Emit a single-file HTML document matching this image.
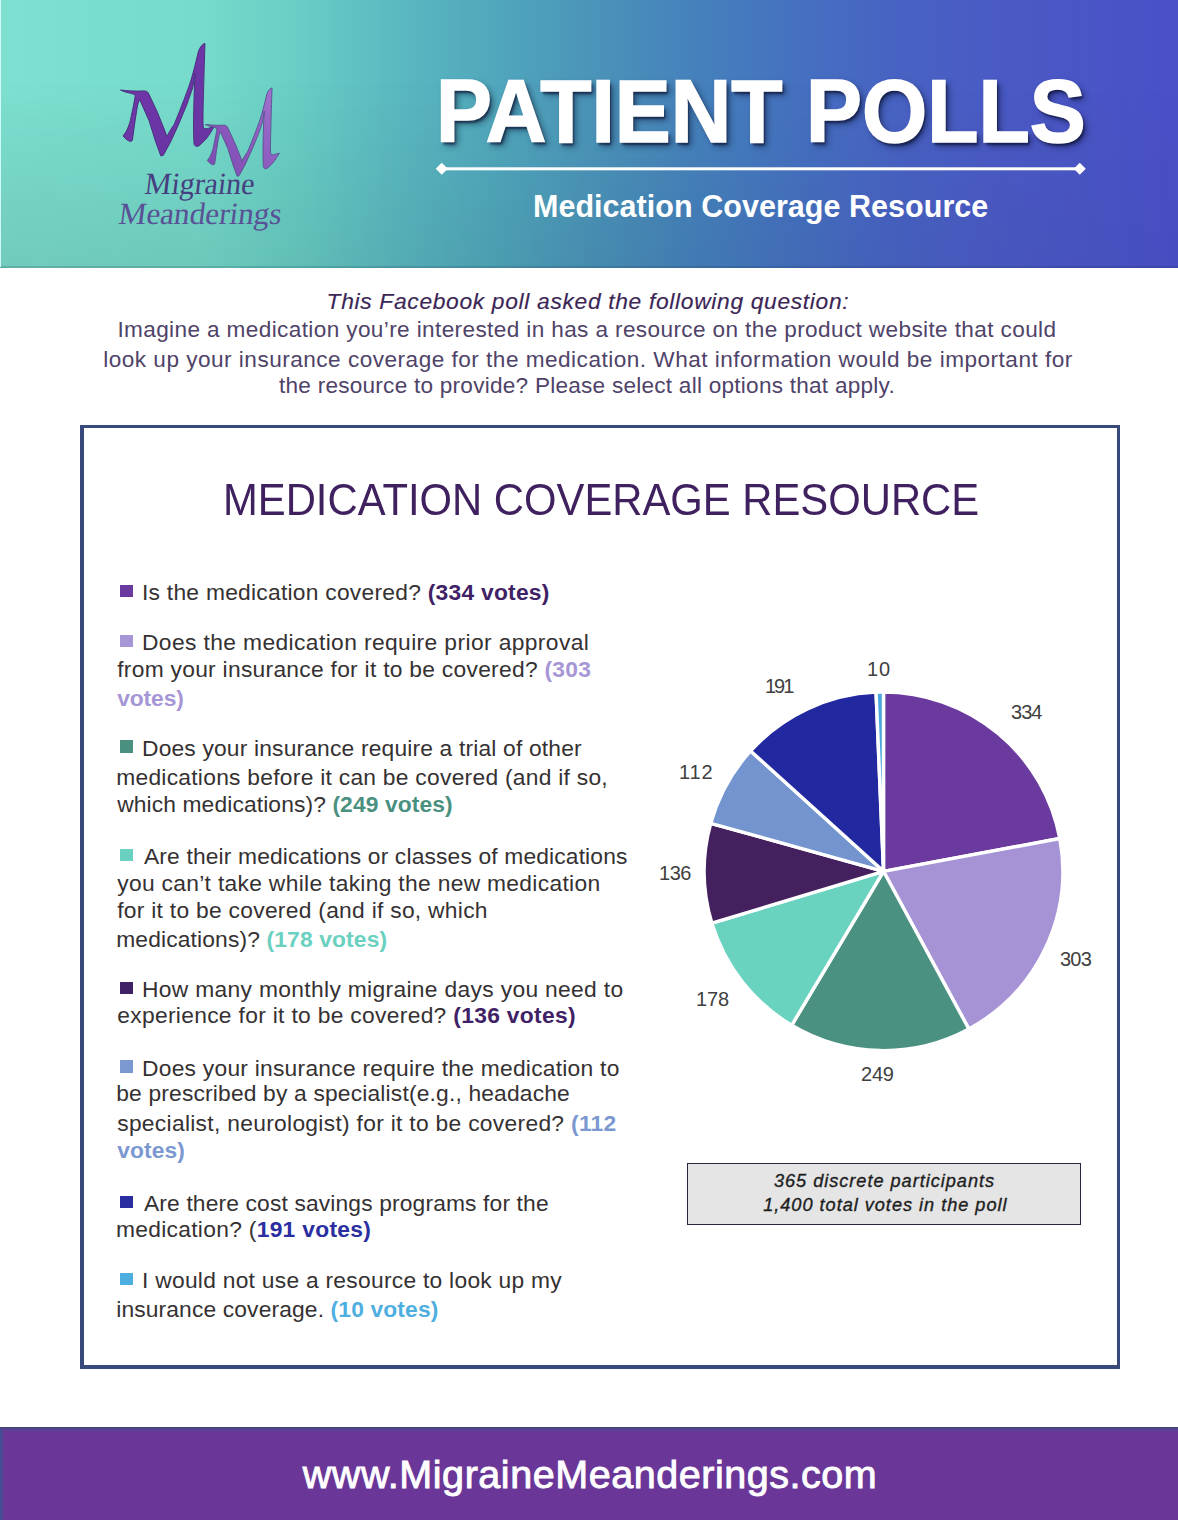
<!DOCTYPE html>
<html><head><meta charset="utf-8"><style>
html,body{margin:0;padding:0;background:#fff;}
body{width:1178px;height:1520px;position:relative;overflow:hidden;font-family:"Liberation Sans",sans-serif;}
#page>div{position:absolute;white-space:nowrap;}
.shadow{text-shadow:2px 3px 2px rgba(10,15,45,0.55),4px 4px 7px rgba(10,15,45,0.5);-webkit-text-stroke:1.6px #fff;}
b{font-weight:700;}
.bul{width:12.5px;height:12.5px;}
</style></head><body><div id="page">
<div id="hdr" style="left:0;top:0;width:1178px;height:267.5px;background:linear-gradient(90deg,#7de0d0 0%,#76dbcb 17%,#68cdc5 25.5%,#5ab8c0 34%,#50a6bc 42.5%,#4a92b9 51%,#4580bc 59.5%,#4570c0 68%,#4862c3 76.4%,#4a5ac5 85%,#4a50c7 100%);"></div>
<div id="hdrshade" style="left:0;top:0;width:1178px;height:267.5px;background:linear-gradient(180deg,rgba(0,0,0,0) 0%,rgba(0,0,0,0) 30%,rgba(0,0,0,0.09) 100%);-webkit-mask-image:linear-gradient(90deg,#000 0%,rgba(0,0,0,0.6) 50%,rgba(0,0,0,0.35) 100%);"></div>
<div style="left:0;top:266px;width:1178px;height:1.5px;background:rgba(20,40,60,0.16);"></div>
<div style="left:0;top:0;width:1px;height:267px;background:rgba(225,255,255,0.85);"></div>
<svg style="position:absolute;left:0;top:0" width="1178" height="270" viewBox="0 0 1178 270">
<defs>
<linearGradient id="mg1" x1="0" y1="0" x2="1" y2="1"><stop offset="0" stop-color="#6f36a8"/><stop offset="1" stop-color="#6a34a2"/></linearGradient>
<linearGradient id="mg2" x1="1" y1="0" x2="0" y2="1"><stop offset="0" stop-color="#a274d0"/><stop offset="0.6" stop-color="#8a58bc"/><stop offset="1" stop-color="#7a48b0"/></linearGradient>
</defs>
<g id="m1" fill="url(#mg1)" stroke="#452a7a" stroke-width="0.9"><path d="M120.5,90 C126,90.6 136,91.4 143,90.9 C145,90.8 146.5,91.2 147.3,91.8 C148,92.5 148.6,93.4 149,94.3 L157.4,112.2 L165.9,133.4 L166.6,136.8 C169.5,131.5 172.5,126.5 173.9,124.9 C176.5,119 182.5,104 188.5,87.5 C192.5,77 195.5,63 198.5,51 C200,47 202.5,44 205,43.3 C204.6,55 203.5,90 203,116 C202.9,122 203,126 203.7,128.3 C205.5,129.2 208,128.6 210.9,127.4 L214.3,126.6 C212.5,129.5 211,132 210.1,133.4 C208,136.5 206,139.5 204.1,141 C202,143 200.5,145 199,145.7 C198,146.3 197,146.6 196.5,146.5 C195,146 194.2,145 194,143.6 C193.6,136 193.5,130 193.5,124.9 C193.6,115 193.8,105 194,99.4 C194.2,90 194.6,82 195.2,73.1 C194.4,78 193.6,83 192.8,87.5 L186.9,104.5 L178.4,124.9 L170.6,141.9 L163.2,155.4 L160.8,155.9 L155.7,141.9 L149,120.6 L139.6,99.4 C138.5,102 137.5,105 137.1,107.9 L134.5,124.9 L132.4,140.2 C131.8,141 131,141.5 130.3,141.4 C128,141 125,138.5 123.1,135.9 C124,134.5 125.2,133 126,131.7 C128,128 129.5,124 130.3,120.6 L133.7,104.5 C134.3,101 134.9,97.5 135.4,95.2 C133,94 131.5,93.5 129.4,93.1 C127,92.4 125,91.8 123.5,91.4 C122.5,91 121.5,90.5 120.5,90 Z"/></g>
<g id="m2" fill="url(#mg2)" stroke="#55508a" stroke-width="1.1" transform="translate(205.3,124.3) scale(0.79,0.785) translate(-120.5,-89.8)"><path d="M120.5,90 C126,90.6 136,91.4 143,90.9 C145,90.8 146.5,91.2 147.3,91.8 C148,92.5 148.6,93.4 149,94.3 L157.4,112.2 L165.9,133.4 L166.6,136.8 C169.5,131.5 172.5,126.5 173.9,124.9 C176.5,119 182.5,104 188.5,87.5 C192.5,77 195.5,63 198.5,51 C200,47 202.5,44 205,43.3 C204.6,55 203.5,90 203,116 C202.9,122 203,126 203.7,128.3 C205.5,129.2 208,128.6 210.9,127.4 L214.3,126.6 C212.5,129.5 211,132 210.1,133.4 C208,136.5 206,139.5 204.1,141 C202,143 200.5,145 199,145.7 C198,146.3 197,146.6 196.5,146.5 C195,146 194.2,145 194,143.6 C193.6,136 193.5,130 193.5,124.9 C193.6,115 193.8,105 194,99.4 C194.2,90 194.6,82 195.2,73.1 C194.4,78 193.6,83 192.8,87.5 L186.9,104.5 L178.4,124.9 L170.6,141.9 L163.2,155.4 L160.8,155.9 L155.7,141.9 L149,120.6 L139.6,99.4 C138.5,102 137.5,105 137.1,107.9 L134.5,124.9 L132.4,140.2 C131.8,141 131,141.5 130.3,141.4 C128,141 125,138.5 123.1,135.9 C124,134.5 125.2,133 126,131.7 C128,128 129.5,124 130.3,120.6 L133.7,104.5 C134.3,101 134.9,97.5 135.4,95.2 C133,94 131.5,93.5 129.4,93.1 C127,92.4 125,91.8 123.5,91.4 C122.5,91 121.5,90.5 120.5,90 Z"/></g>
<rect x="445" y="167.3" width="635" height="3" fill="#fff"/>
<rect x="437.5" y="164.5" width="8.5" height="8.5" fill="#fff" transform="rotate(45 441.75 168.75)"/>
<rect x="1075.5" y="164.5" width="8.5" height="8.5" fill="#fff" transform="rotate(45 1079.75 168.75)"/>
</svg>
<div id="box" style="left:80px;top:425px;width:1033px;height:937px;border-left:4px solid #384a7c;border-top:3px solid #384a7c;border-right:3px solid #384a7c;border-bottom:4px solid #384a7c;"></div>
<svg style="position:absolute;left:0;top:0" width="1178" height="1100" viewBox="0 0 1178 1100">
<g stroke="#fff" stroke-width="3.4" stroke-linejoin="round"><path d="M883.5,871.3 L883.50,692.00 A179.3,179.3 0 0 1 1059.78,838.54 Z" fill="#6a3a9e"/><path d="M883.5,871.3 L1059.78,838.54 A179.3,179.3 0 0 1 968.87,1028.97 Z" fill="#a693d5"/><path d="M883.5,871.3 L968.87,1028.97 A179.3,179.3 0 0 1 791.66,1025.29 Z" fill="#4a9182"/><path d="M883.5,871.3 L791.66,1025.29 A179.3,179.3 0 0 1 711.88,923.23 Z" fill="#6ad3c0"/><path d="M883.5,871.3 L711.88,923.23 A179.3,179.3 0 0 1 710.74,823.31 Z" fill="#44215e"/><path d="M883.5,871.3 L710.74,823.31 A179.3,179.3 0 0 1 750.62,750.92 Z" fill="#7394cf"/><path d="M883.5,871.3 L750.62,750.92 A179.3,179.3 0 0 1 876.06,692.15 Z" fill="#2229a0"/><path d="M883.5,871.3 L876.06,692.15 A179.3,179.3 0 0 1 883.50,692.00 Z" fill="#4aa6de"/></g>
</svg>
<div id="pbox" style="left:686.5px;top:1163px;width:392.5px;height:59.5px;background:#e5e5e5;border:1px solid #2d2540;"></div>
<div class="bul" style="left:120px;top:584.5px;background:#6a3a9e"></div><div class="bul" style="left:120px;top:634.5px;background:#a696d6"></div><div class="bul" style="left:120px;top:740.3px;background:#4a9080"></div><div class="bul" style="left:120px;top:848.6px;background:#6ad0c0"></div><div class="bul" style="left:120px;top:981.5px;background:#3f2166"></div><div class="bul" style="left:120px;top:1060.3px;background:#7b98d0"></div><div class="bul" style="left:120px;top:1195.5px;background:#2a2ea0"></div><div class="bul" style="left:120px;top:1272.8px;background:#4faee0"></div>
<div id="foot-bg" style="left:0;top:1427.3px;width:1178px;height:93px;background:linear-gradient(180deg,#3f4272 0px,#4c4585 1.5px,#5e3f95 3px,#6a3799 5px);"></div>
<div style="left:0;top:1430px;width:4px;height:90px;background:linear-gradient(90deg,#3d5092 0%,#4f4896 50%,rgba(106,55,153,0) 100%);"></div>
<div id="title" class="shadow" style="left:436.00px;top:61.11px;font-size:89.8px;line-height:100.32px;font-weight:700;font-style:normal;color:#ffffff;letter-spacing:0.000px;font-family:'Liberation Sans', sans-serif;transform-origin:0 0;transform:scaleX(0.9348) ">PATIENT POLLS</div><div id="sub" style="left:533.00px;top:189.39px;font-size:30.5px;line-height:34.07px;font-weight:700;font-style:normal;color:#ffffff;letter-spacing:0.037px;font-family:'Liberation Sans', sans-serif;transform-origin:0 0;transform:scaleX(1.0000) ">Medication Coverage Resource</div><div id="i1" style="left:326.60px;top:289.16px;font-size:22.8px;line-height:25.47px;font-weight:400;font-style:italic;color:#3b2656;letter-spacing:0.673px;-webkit-text-stroke:0.15px #3b2656;font-family:'Liberation Sans', sans-serif;transform-origin:0 0;transform:scaleX(1.0000) ">This Facebook poll asked the following question:</div><div id="i2" style="left:117.40px;top:317.24px;font-size:22.6px;line-height:25.25px;font-weight:400;font-style:normal;color:#4f4369;letter-spacing:0.372px;font-family:'Liberation Sans', sans-serif;transform-origin:0 0;transform:scaleX(1.0000) ">Imagine a medication you&rsquo;re interested in has a resource on the product website that could</div><div id="i3" style="left:103.20px;top:347.04px;font-size:22.6px;line-height:25.25px;font-weight:400;font-style:normal;color:#4f4369;letter-spacing:0.484px;font-family:'Liberation Sans', sans-serif;transform-origin:0 0;transform:scaleX(1.0000) ">look up your insurance coverage for the medication. What information would be important for</div><div id="i4" style="left:279.00px;top:373.04px;font-size:22.6px;line-height:25.25px;font-weight:400;font-style:normal;color:#4f4369;letter-spacing:0.238px;font-family:'Liberation Sans', sans-serif;transform-origin:0 0;transform:scaleX(1.0000) ">the resource to provide? Please select all options that apply.</div><div id="h" style="left:222.80px;top:475.65px;font-size:43.8px;line-height:48.93px;font-weight:400;font-style:normal;color:#3f2160;letter-spacing:0.000px;font-family:'Liberation Sans', sans-serif;transform-origin:0 0;transform:scaleX(0.9541) ">MEDICATION COVERAGE RESOURCE</div><div id="a1" style="left:142.00px;top:580.36px;font-size:22.8px;line-height:25.47px;font-weight:400;font-style:normal;color:#353132;letter-spacing:0.256px;font-family:'Liberation Sans', sans-serif;transform-origin:0 0;transform:scaleX(1.0000) ">Is the medication covered? <b style="color:#3f2166">(334 votes)</b></div><div id="b1" style="left:142.00px;top:629.96px;font-size:22.8px;line-height:25.47px;font-weight:400;font-style:normal;color:#353132;letter-spacing:0.390px;font-family:'Liberation Sans', sans-serif;transform-origin:0 0;transform:scaleX(1.0000) ">Does the medication require prior approval</div><div id="b2" style="left:117.20px;top:657.16px;font-size:22.8px;line-height:25.47px;font-weight:400;font-style:normal;color:#353132;letter-spacing:0.278px;font-family:'Liberation Sans', sans-serif;transform-origin:0 0;transform:scaleX(1.0000) ">from your insurance for it to be covered? <b style="color:#a696d6">(303</b></div><div id="b3" style="left:117.20px;top:685.96px;font-size:22.8px;line-height:25.47px;font-weight:400;font-style:normal;color:#353132;letter-spacing:-0.100px;font-family:'Liberation Sans', sans-serif;transform-origin:0 0;transform:scaleX(1.0000) "><b style="color:#a696d6">votes)</b></div><div id="c1" style="left:142.00px;top:735.66px;font-size:22.8px;line-height:25.47px;font-weight:400;font-style:normal;color:#353132;letter-spacing:0.175px;font-family:'Liberation Sans', sans-serif;transform-origin:0 0;transform:scaleX(1.0000) ">Does your insurance require a trial of other</div><div id="c2" style="left:116.20px;top:764.66px;font-size:22.8px;line-height:25.47px;font-weight:400;font-style:normal;color:#353132;letter-spacing:0.266px;font-family:'Liberation Sans', sans-serif;transform-origin:0 0;transform:scaleX(1.0000) ">medications before it can be covered (and if so,</div><div id="c3" style="left:117.20px;top:791.66px;font-size:22.8px;line-height:25.47px;font-weight:400;font-style:normal;color:#353132;letter-spacing:0.117px;font-family:'Liberation Sans', sans-serif;transform-origin:0 0;transform:scaleX(1.0000) ">which medications)? <b style="color:#4a9080">(249 votes)</b></div><div id="d1" style="left:144.00px;top:843.56px;font-size:22.8px;line-height:25.47px;font-weight:400;font-style:normal;color:#353132;letter-spacing:0.152px;font-family:'Liberation Sans', sans-serif;transform-origin:0 0;transform:scaleX(1.0000) ">Are their medications or classes of medications</div><div id="d2" style="left:117.20px;top:870.56px;font-size:22.8px;line-height:25.47px;font-weight:400;font-style:normal;color:#353132;letter-spacing:0.312px;font-family:'Liberation Sans', sans-serif;transform-origin:0 0;transform:scaleX(1.0000) ">you can&rsquo;t take while taking the new medication</div><div id="d3" style="left:117.20px;top:897.76px;font-size:22.8px;line-height:25.47px;font-weight:400;font-style:normal;color:#353132;letter-spacing:0.283px;font-family:'Liberation Sans', sans-serif;transform-origin:0 0;transform:scaleX(1.0000) ">for it to be covered (and if so, which</div><div id="d4" style="left:116.20px;top:926.66px;font-size:22.8px;line-height:25.47px;font-weight:400;font-style:normal;color:#353132;letter-spacing:0.147px;font-family:'Liberation Sans', sans-serif;transform-origin:0 0;transform:scaleX(1.0000) ">medications)? <b style="color:#6ad0c0">(178 votes)</b></div><div id="e1" style="left:142.00px;top:977.16px;font-size:22.8px;line-height:25.47px;font-weight:400;font-style:normal;color:#353132;letter-spacing:0.330px;font-family:'Liberation Sans', sans-serif;transform-origin:0 0;transform:scaleX(1.0000) ">How many monthly migraine days you need to</div><div id="e2" style="left:117.20px;top:1003.06px;font-size:22.8px;line-height:25.47px;font-weight:400;font-style:normal;color:#353132;letter-spacing:0.315px;font-family:'Liberation Sans', sans-serif;transform-origin:0 0;transform:scaleX(1.0000) ">experience for it to be covered? <b style="color:#3f2166">(136 votes)</b></div><div id="f1" style="left:142.00px;top:1056.06px;font-size:22.8px;line-height:25.47px;font-weight:400;font-style:normal;color:#353132;letter-spacing:0.250px;font-family:'Liberation Sans', sans-serif;transform-origin:0 0;transform:scaleX(1.0000) ">Does your insurance require the medication to</div><div id="f2" style="left:116.20px;top:1081.46px;font-size:22.8px;line-height:25.47px;font-weight:400;font-style:normal;color:#353132;letter-spacing:0.175px;font-family:'Liberation Sans', sans-serif;transform-origin:0 0;transform:scaleX(1.0000) ">be prescribed by a specialist(e.g., headache</div><div id="f3" style="left:117.20px;top:1111.06px;font-size:22.8px;line-height:25.47px;font-weight:400;font-style:normal;color:#353132;letter-spacing:0.300px;font-family:'Liberation Sans', sans-serif;transform-origin:0 0;transform:scaleX(1.0000) ">specialist, neurologist) for it to be covered? <b style="color:#7b98d0">(112</b></div><div id="f4" style="left:117.20px;top:1137.56px;font-size:22.8px;line-height:25.47px;font-weight:400;font-style:normal;color:#353132;letter-spacing:0.100px;font-family:'Liberation Sans', sans-serif;transform-origin:0 0;transform:scaleX(1.0000) "><b style="color:#7b98d0">votes)</b></div><div id="g1" style="left:144.00px;top:1190.86px;font-size:22.8px;line-height:25.47px;font-weight:400;font-style:normal;color:#353132;letter-spacing:0.144px;font-family:'Liberation Sans', sans-serif;transform-origin:0 0;transform:scaleX(1.0000) ">Are there cost savings programs for the</div><div id="g2" style="left:115.90px;top:1217.36px;font-size:22.8px;line-height:25.47px;font-weight:400;font-style:normal;color:#353132;letter-spacing:0.301px;font-family:'Liberation Sans', sans-serif;transform-origin:0 0;transform:scaleX(1.0000) ">medication? (<b style="color:#2a2ea0">191 votes)</b></div><div id="h1" style="left:142.00px;top:1267.96px;font-size:22.8px;line-height:25.47px;font-weight:400;font-style:normal;color:#353132;letter-spacing:0.268px;font-family:'Liberation Sans', sans-serif;transform-origin:0 0;transform:scaleX(1.0000) ">I would not use a resource to look up my</div><div id="h2" style="left:116.20px;top:1296.86px;font-size:22.8px;line-height:25.47px;font-weight:400;font-style:normal;color:#353132;letter-spacing:0.139px;font-family:'Liberation Sans', sans-serif;transform-origin:0 0;transform:scaleX(1.0000) ">insurance coverage. <b style="color:#4faee0">(10 votes)</b></div><div id="p10" style="left:867.00px;top:658.29px;font-size:20px;line-height:22.34px;font-weight:400;font-style:normal;color:#404040;letter-spacing:1.000px;font-family:'Liberation Sans', sans-serif;transform-origin:0 0;transform:scaleX(1.0000) ">10</div><div id="p191" style="left:765.00px;top:675.39px;font-size:20px;line-height:22.34px;font-weight:400;font-style:normal;color:#404040;letter-spacing:-2.000px;font-family:'Liberation Sans', sans-serif;transform-origin:0 0;transform:scaleX(1.0000) ">191</div><div id="p334" style="left:1011.00px;top:700.99px;font-size:20px;line-height:22.34px;font-weight:400;font-style:normal;color:#404040;letter-spacing:-0.950px;font-family:'Liberation Sans', sans-serif;transform-origin:0 0;transform:scaleX(1.0000) ">334</div><div id="p112" style="left:679.00px;top:761.29px;font-size:20px;line-height:22.34px;font-weight:400;font-style:normal;color:#404040;letter-spacing:0.850px;font-family:'Liberation Sans', sans-serif;transform-origin:0 0;transform:scaleX(1.0000) ">112</div><div id="p136" style="left:659.00px;top:861.79px;font-size:20px;line-height:22.34px;font-weight:400;font-style:normal;color:#404040;letter-spacing:-0.450px;font-family:'Liberation Sans', sans-serif;transform-origin:0 0;transform:scaleX(1.0000) ">136</div><div id="p303" style="left:1060.00px;top:947.79px;font-size:20px;line-height:22.34px;font-weight:400;font-style:normal;color:#404040;letter-spacing:-0.750px;font-family:'Liberation Sans', sans-serif;transform-origin:0 0;transform:scaleX(1.0000) ">303</div><div id="p178" style="left:696.00px;top:988.29px;font-size:20px;line-height:22.34px;font-weight:400;font-style:normal;color:#404040;letter-spacing:-0.150px;font-family:'Liberation Sans', sans-serif;transform-origin:0 0;transform:scaleX(1.0000) ">178</div><div id="p249" style="left:861.00px;top:1062.99px;font-size:20px;line-height:22.34px;font-weight:400;font-style:normal;color:#404040;letter-spacing:-0.200px;font-family:'Liberation Sans', sans-serif;transform-origin:0 0;transform:scaleX(1.0000) ">249</div><div id="k1" style="left:773.90px;top:1171.32px;font-size:18.2px;line-height:20.33px;font-weight:400;font-style:italic;color:#1e1e1e;letter-spacing:0.961px;-webkit-text-stroke:0.35px #1e1e1e;font-family:'Liberation Sans', sans-serif;transform-origin:0 0;transform:scaleX(1.0000) ">365 discrete participants</div><div id="k2" style="left:763.20px;top:1194.52px;font-size:18.2px;line-height:20.33px;font-weight:400;font-style:italic;color:#1e1e1e;letter-spacing:0.963px;-webkit-text-stroke:0.35px #1e1e1e;font-family:'Liberation Sans', sans-serif;transform-origin:0 0;transform:scaleX(1.0000) ">1,400 total votes in the poll</div><div id="foot" style="left:302.80px;top:1451.74px;font-size:39.5px;line-height:44.13px;font-weight:400;font-style:normal;color:#ffffff;letter-spacing:0.545px;-webkit-text-stroke:0.9px #fff;font-family:'Liberation Sans', sans-serif;transform-origin:0 0;transform:scaleX(1.0000) ">www.MigraineMeanderings.com</div><div id="lg1" style="left:147.00px;top:166.68px;font-size:31px;line-height:34.33px;font-weight:400;font-style:normal;color:#453f80;letter-spacing:0.000px;font-family:'Liberation Serif', serif;transform-origin:0 0;transform:scaleX(0.9655) skewX(-7deg)">Migraine</div><div id="lg2" style="left:121.00px;top:197.08px;font-size:31px;line-height:34.33px;font-weight:400;font-style:normal;color:#5a5096;letter-spacing:0.000px;font-family:'Liberation Serif', serif;transform-origin:0 0;transform:scaleX(1.0065) skewX(-7deg)">Meanderings</div>
</div></body></html>
